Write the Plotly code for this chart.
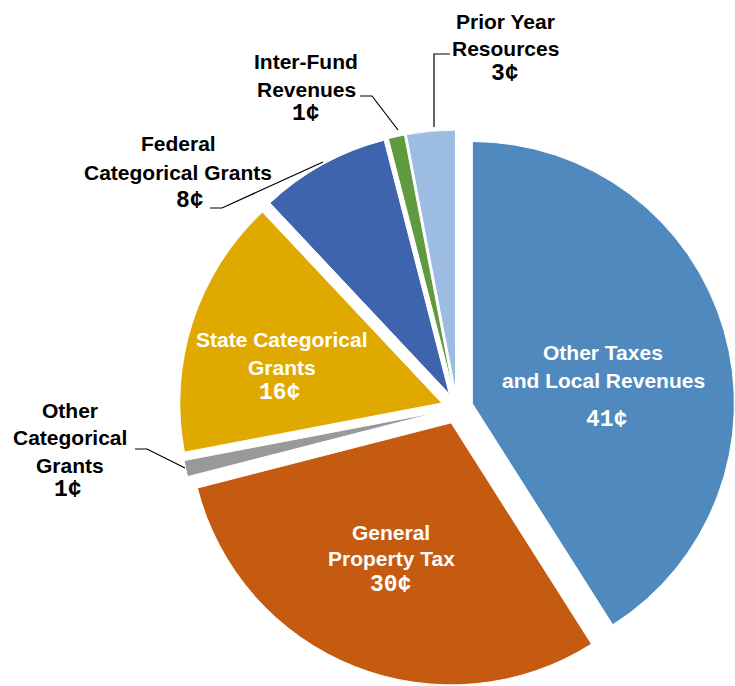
import plotly.graph_objects as go

W, H = 735, 686

# ---- data ----
categories = [
    "Other Taxes<br>and Local Revenues",
    "General<br>Property Tax",
    "Other<br>Categorical<br>Grants",
    "State Categorical<br>Grants",
    "Federal<br>Categorical Grants",
    "Inter-Fund<br>Revenues",
    "Prior Year<br>Resources",
]
values = [41, 30, 1, 16, 8, 1, 3]
value_labels = [f"{v}\u00a2" for v in values]

# ---- styles ----
colors = ["#4F89BD", "#C55A11", "#999999", "#DFA900", "#3D64AD", "#5F9B3E", "#9CBCE2"]
text_colors = ["white", "white", "black", "white", "black", "black", "black"]
LABEL_FONT = "Liberation Sans, Arial, sans-serif"
NUM_FONT = "Liberation Mono, Courier New, monospace"
FS = 21
NFS = 23

# label placement in pixels: (x of lines, y of first line, line gap, number x, number y)
label_pos = [
    (603, 352, 28, 606, 420),
    (391, 532, 26, 390, 585),
    (70, 410, 27.5, 68, 490),
    (282, 339, 28, 279, 393),
    (178, 143, 29, 190, 201),
    (306, 62, 28, 306, 114),
    (505, 21, 28, 505, 74),
]
# leader lines (pixels) for small slices
leaders = [
    [(135, 449), (147, 449), (185, 468)],
    [(210, 208), (222, 208), (323, 162)],
    [(360, 96), (372, 96), (398, 130)],
    [(450, 54), (434, 54), (434, 127)],
]


def fx(x):
    return x / W


def fy(y):
    return 1 - y / H


fig = go.Figure(
    go.Pie(
        labels=[c.replace("<br>", " ") for c in categories],
        values=values,
        sort=False,
        direction="clockwise",
        rotation=0,
        pull=[0.061] * len(values),
        marker=dict(colors=colors, line=dict(color="white", width=1)),
        textinfo="none",
        hoverinfo="label+value",
        domain=dict(x=[179 / W, 1], y=[0, 1 - 130 / H]),
        showlegend=False,
    )
)

annotations = []
for cat, vl, tc, (lx, ly, gap, nx, ny) in zip(categories, value_labels, text_colors, label_pos):
    for i, line in enumerate(cat.split("<br>")):
        annotations.append(dict(
            x=fx(lx), y=fy(ly + i * gap), xref="paper", yref="paper",
            text=line, showarrow=False, xanchor="center", yanchor="middle",
            font=dict(family=LABEL_FONT, size=FS, color=tc, weight="bold"),
        ))
    annotations.append(dict(
        x=fx(nx), y=fy(ny), xref="paper", yref="paper",
        text=vl, showarrow=False, xanchor="center", yanchor="middle",
        font=dict(family=NUM_FONT, size=NFS, color=tc, weight="bold"),
    ))

shapes = []
for pts in leaders:
    path = "M " + " L ".join(f"{fx(x):.5f},{fy(y):.5f}" for x, y in pts)
    shapes.append(dict(type="path", xref="paper", yref="paper", path=path,
                       line=dict(color="black", width=1.2)))

fig.update_layout(
    width=W, height=H,
    margin=dict(l=0, r=0, t=0, b=0),
    paper_bgcolor="white", plot_bgcolor="white",
    annotations=annotations, shapes=shapes,
)

fig.write_html(
    "out.html",
    config={"displayModeBar": False},
    post_script="document.body.style.margin='0';document.body.style.overflow='hidden';",
)
